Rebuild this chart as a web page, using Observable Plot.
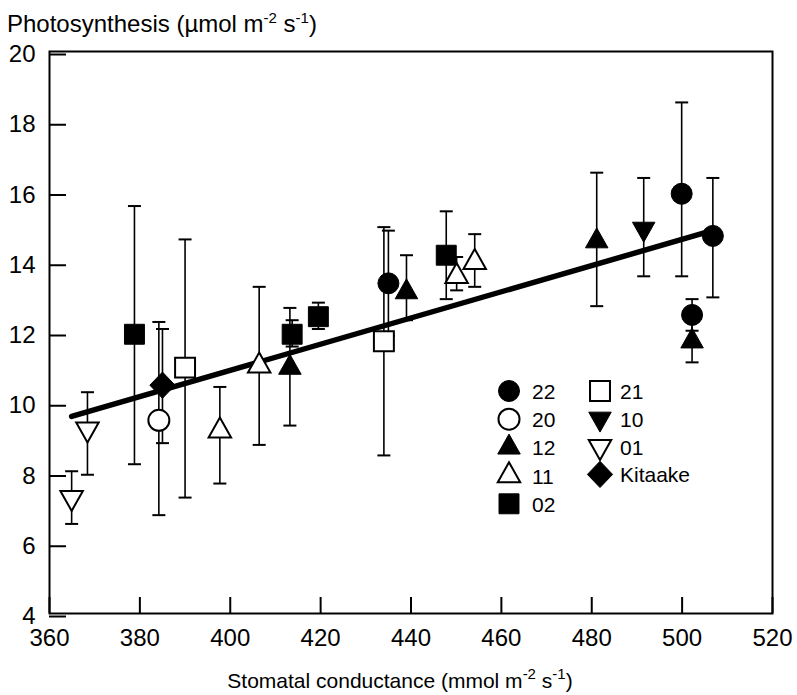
<!DOCTYPE html>
<html>
<head>
<meta charset="utf-8">
<script src="https://cdn.jsdelivr.net/npm/d3@7"></script>
<script src="https://cdn.jsdelivr.net/npm/@observablehq/plot@0.6"></script>
<style>
  body { margin: 0; background: #fff; }
  #chart { position: relative; width: 797px; height: 695px; }
</style>
</head>
<body>
<div id="chart"></div>
<script>
// ---- data ----
const genotype = ["01","01","02","20","Kitaake","21","11","11","12","02","02","21","22","12","02","11","11","12","10","22","22","22","12"];
const conductance = [364.9,368.4,378.8,384.2,385.0,390.0,397.7,406.4,413.2,413.7,419.5,434.0,435.0,439.0,447.8,450.1,454.1,481.1,491.5,499.9,506.8,502.2,502.2];
const photosynthesis = [7.3,9.25,11.95,9.5,10.5,11.0,9.2,11.05,11.0,11.95,12.45,11.75,13.4,13.15,14.2,13.6,14.0,14.6,14.95,15.95,14.75,12.5,11.75];
const lower = [6.55,7.95,8.25,6.8,8.85,7.3,7.7,8.8,9.35,11.6,12.1,8.5,11.9,12.35,12.95,13.2,13.3,12.75,13.6,13.6,13.0,12.05,11.15];
const upper = [8.05,10.3,15.6,12.3,12.1,14.65,10.45,13.3,12.7,12.35,12.85,15.0,14.9,14.2,15.45,14.15,14.8,16.55,16.4,18.55,16.4,12.95,12.35];
const xTicks = [360,380,400,420,440,460,480,500,520];
const yTicks = [4,6,8,10,12,14,16,18,20];
const legendCol1 = ["22","20","12","11","02"];
const legendCol2 = ["21","10","01","Kitaake"];

// ---- styles ----
const FONT = "'Liberation Sans', Arial, Helvetica, sans-serif";
const shapes = {
  circle: {draw(ctx, size) { const r = Math.sqrt(size / Math.PI); ctx.moveTo(r, 0); ctx.arc(0, 0, r, 0, 2 * Math.PI); ctx.closePath(); }},
  square: {draw(ctx, size) { const r = Math.sqrt(size / Math.PI) * 0.95; ctx.rect(-r, -r, 2 * r, 2 * r); }},
  triUp: {draw(ctx, size) { const r = Math.sqrt(size / Math.PI); const w = 1.07 * r, h = 1.9 * r; ctx.moveTo(0, -2 * h / 3); ctx.lineTo(w, h / 3); ctx.lineTo(-w, h / 3); ctx.closePath(); }},
  triDown: {draw(ctx, size) { const r = Math.sqrt(size / Math.PI); const w = 1.07 * r, h = 1.9 * r; ctx.moveTo(0, 2 * h / 3); ctx.lineTo(w, -h / 3); ctx.lineTo(-w, -h / 3); ctx.closePath(); }},
  diamond: {draw(ctx, size) { const r = Math.sqrt(size / Math.PI); const a = 1.2 * r, b = 1.25 * r; ctx.moveTo(0, -b); ctx.lineTo(a, 0); ctx.lineTo(0, b); ctx.lineTo(-a, 0); ctx.closePath(); }}
};
const capShape = {draw(ctx) { ctx.moveTo(-6.5, 0); ctx.lineTo(6.5, 0); }};
const markerStyle = {
  "22": {shape: "circle", filled: true},
  "20": {shape: "circle", filled: false},
  "12": {shape: "triUp", filled: true},
  "11": {shape: "triUp", filled: false},
  "02": {shape: "square", filled: true},
  "21": {shape: "square", filled: false},
  "10": {shape: "triDown", filled: true},
  "01": {shape: "triDown", filled: false},
  "Kitaake": {shape: "diamond", filled: true}
};
const R = 10.5;

const data = genotype.map((g, i) => ({genotype: g, x: conductance[i], y: photosynthesis[i], lo: lower[i], hi: upper[i]}));
const groups = Object.keys(markerStyle);

const plot = Plot.plot({
  width: 797,
  height: 695,
  marginLeft: 49,
  marginRight: 25,
  marginTop: 51,
  marginBottom: 82,
  style: {fontFamily: FONT, fontSize: "24px", color: "#000", background: "#fff"},
  x: {domain: [360, 520]},
  y: {domain: [4, 20]},
  marks: [
    Plot.axisX({ticks: xTicks, tickSize: -16, tickPadding: 31, fontSize: 24, strokeWidth: 2, label: null, tickFormat: d => String(d)}),
    Plot.axisY({ticks: yTicks, tickSize: -17, tickPadding: 31, fontSize: 24, strokeWidth: 2, label: null, dy: 3, tickFormat: d => String(d)}),
    Plot.ruleX(data, {x: "x", y1: "lo", y2: "hi", stroke: "#000", strokeWidth: 1.6}),
    Plot.dot(data, {x: "x", y: "lo", symbol: capShape, fill: "none", stroke: "#000", strokeWidth: 2}),
    Plot.dot(data, {x: "x", y: "hi", symbol: capShape, fill: "none", stroke: "#000", strokeWidth: 2}),
    Plot.linearRegressionY(data, {x: "x", y: "y", ci: 0, stroke: "#000", strokeWidth: 5.5}),
    ...groups.map(g => Plot.dot(data.filter(d => d.genotype === g), {
      x: "x", y: "y", r: R,
      symbol: shapes[markerStyle[g].shape],
      fill: markerStyle[g].filled ? "#000" : "#fff",
      stroke: "#000",
      strokeWidth: markerStyle[g].filled ? 1 : 2
    })),
    Plot.frame({stroke: "#000", strokeWidth: 2})
  ]
});

document.getElementById("chart").appendChild(plot);

// ---- titles and legend (layout overlays in the same SVG) ----
const svg = d3.select(plot);
function supText(sel, parts) {
  parts.forEach(p => {
    if (p.sup) sel.append("tspan").attr("dy", -9).attr("font-size", 15).text(p.t);
    else sel.append("tspan").attr("dy", p.down ? 9 : 0).text(p.t);
  });
}
const yTitle = svg.append("text").attr("x", 7).attr("y", 32).attr("text-anchor", "start")
  .attr("font-size", 24).attr("font-family", FONT).attr("fill", "#000");
supText(yTitle, [{t: "Photosynthesis (µmol m"}, {t: "-2", sup: true}, {t: " s", down: true}, {t: "-1", sup: true}, {t: ")", down: true}]);

const xTitle = svg.append("text").attr("x", 400).attr("y", 688).attr("text-anchor", "middle")
  .attr("font-size", 21).attr("font-family", FONT).attr("fill", "#000");
supText(xTitle, [{t: "Stomatal conductance (mmol m"}, {t: "-2", sup: true}, {t: " s", down: true}, {t: "-1", sup: true}, {t: ")", down: true}]);

const legend = svg.append("g").attr("font-family", FONT).attr("font-size", 21).attr("text-anchor", "start");
function legendEntry(label, cx, cy, tx) {
  const st = markerStyle[label];
  legend.append("path")
    .attr("d", d3.symbol(shapes[st.shape], Math.PI * R * R)())
    .attr("transform", `translate(${cx},${cy})`)
    .attr("fill", st.filled ? "#000" : "#fff")
    .attr("stroke", "#000")
    .attr("stroke-width", st.filled ? 1 : 2);
  legend.append("text").attr("x", tx).attr("y", cy + 8).attr("text-anchor", "start").attr("fill", "#000").text(label);
}
legendCol1.forEach((g, i) => legendEntry(g, 509, 391 + i * 28.2, 532));
legendCol2.forEach((g, i) => legendEntry(g, 600, 391 + i * 27.8, 620));
</script>
</body>
</html>
